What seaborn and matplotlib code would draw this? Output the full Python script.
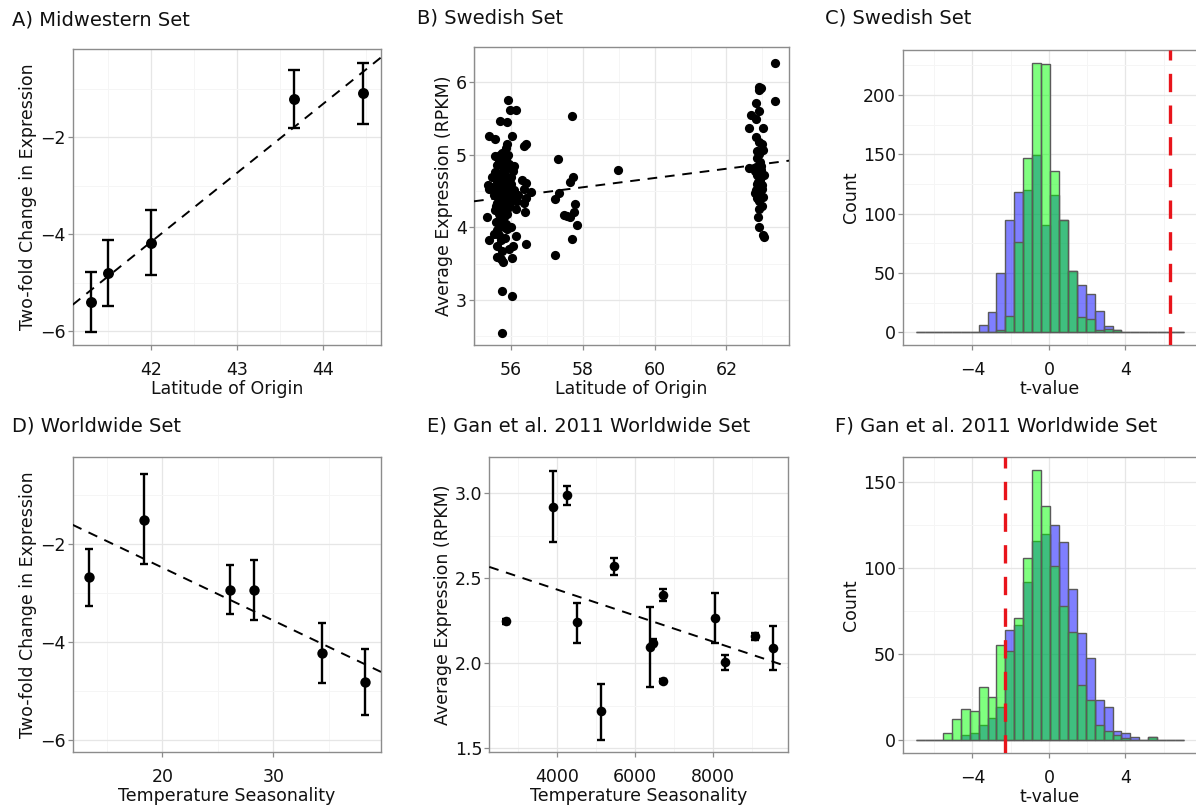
import numpy as np
import matplotlib
matplotlib.use("Agg")
import matplotlib.pyplot as plt
import seaborn as sns

# ---------------- DATA ----------------
# A) Midwestern Set
mw_lat = [41.30, 41.50, 42.00, 43.66, 44.46]
mw_fc = [-5.40, -4.81, -4.18, -1.20, -1.09]
mw_lo = [-6.03, -5.48, -4.85, -1.80, -1.72]
mw_hi = [-4.79, -4.12, -3.51, -0.60, -0.46]
mw_fit = [-64.11, 1.4274]          # intercept, slope

# B) Swedish Set
sw_lat = [55.91, 55.97, 56.14, 55.70, 55.88, 55.39, 55.55, 56.04, 55.90, 56.41,
          56.36, 55.85, 55.76, 55.55, 55.67, 55.85, 55.62, 55.79, 55.90, 55.55,
          55.71, 56.06, 55.48, 55.60, 55.77, 55.97, 55.36, 55.43, 55.67, 55.81,
          55.99, 56.31, 56.41, 55.39, 55.60, 55.90, 56.08, 56.55, 56.36, 55.53,
          55.71, 55.90, 56.04, 56.41, 55.79, 55.62, 55.97, 56.16, 55.55, 55.90,
          56.13, 56.36, 56.38, 55.34, 55.67, 55.81, 55.57, 55.71, 55.90, 56.01,
          55.62, 55.53, 55.39, 55.71, 56.13, 56.06, 56.43, 55.62, 55.76, 55.62,
          55.79, 56.04, 55.73, 55.74, 56.03, 55.74,
          55.65, 55.82, 55.72, 55.86, 55.75, 55.85, 55.66, 55.93, 55.78, 55.70,
          55.88, 55.95, 55.80, 55.70, 55.92, 55.68, 55.85, 55.60, 56.00, 55.95,
          55.76, 55.62, 55.90, 55.80, 55.66, 56.08, 56.20, 55.82, 55.95, 55.58,
          57.32, 57.23, 57.33, 57.70, 57.64, 57.73, 57.22, 57.47, 57.55, 57.64,
          57.78, 57.76, 57.85, 57.71, 58.98,
          63.34, 63.34, 62.90, 62.96, 62.91, 62.81, 62.90, 62.68, 62.81, 62.63,
          63.03, 62.81, 62.90, 63.03, 62.91, 62.84, 62.93, 62.63, 62.81, 62.97,
          62.86, 63.04, 62.93, 62.84, 62.98, 62.82, 62.93, 63.02, 62.91, 62.98,
          62.88, 62.90, 63.03, 63.04, 62.79, 62.89, 62.95, 62.88, 63.00, 62.85,
          62.92, 62.80, 62.98, 62.86]
sw_expr = [5.75, 5.62, 5.62, 5.46, 5.45, 5.26, 5.22, 5.26, 5.15, 5.15,
           5.12, 5.09, 5.03, 4.98, 4.93, 4.94, 4.86, 4.83, 4.82, 4.77,
           4.75, 4.78, 4.70, 4.67, 4.65, 4.68, 4.59, 4.56, 4.60, 4.57,
           4.60, 4.65, 4.61, 4.53, 4.50, 4.51, 4.52, 4.49, 4.53, 4.44,
           4.42, 4.44, 4.42, 4.40, 4.36, 4.33, 4.34, 4.37, 4.24, 4.25,
           4.25, 4.33, 4.21, 4.14, 4.19, 4.14, 4.08, 4.05, 3.98, 4.01,
           3.96, 3.91, 3.82, 3.83, 3.88, 3.75, 3.77, 3.75, 3.68, 3.59,
           3.52, 3.58, 3.56, 3.12, 3.05, 2.55,
           4.72, 4.72, 4.62, 4.63, 4.52, 4.48, 4.40, 4.40, 4.28, 4.20,
           4.18, 4.30, 4.90, 5.00, 5.00, 4.10, 4.05, 4.62, 4.70, 4.88,
           4.45, 4.55, 4.58, 4.00, 3.90, 4.85, 4.45, 3.85, 3.70, 4.30,
           4.94, 4.39, 4.48, 5.54, 4.62, 4.69, 3.62, 4.17, 4.16, 4.14,
           4.32, 4.21, 4.03, 3.84, 4.79,
           6.27, 5.74, 5.94, 5.92, 5.89, 5.72, 5.61, 5.55, 5.49, 5.37,
           5.37, 5.24, 5.18, 5.07, 5.01, 4.95, 4.90, 4.82, 4.83, 4.79,
           4.72, 4.72, 4.65, 4.60, 4.53, 4.51, 4.47, 4.42, 4.36, 4.30,
           4.15, 4.00, 3.89, 3.87, 4.47, 4.41, 4.85, 4.62, 4.58, 4.40,
           4.25, 4.78, 5.15, 5.05]
sw_fit = [0.853, 0.0638]

# Histogram bins (t-value), shared by C and F
hist_start = -6.95
hist_width = 0.467
hist_nbins = 30

# C) Swedish Set permutation t-values (counts per bin)
sw_blue = [0, 0, 0, 0, 0, 0, 0, 6, 17, 50, 95, 118, 120, 149, 90, 116,
           95, 52, 40, 32, 18, 5, 2, 0, 0, 0, 0, 0, 0, 0]
sw_green = [0, 0, 0, 0, 0, 0, 0, 0, 0, 2, 14, 76, 147, 227, 226, 136,
            95, 52, 13, 11, 2, 3, 2, 0, 0, 0, 0, 0, 0, 0]
sw_obs_t = 6.32

# D) Worldwide Set
ww_temp = [13.39, 18.35, 26.07, 28.29, 34.35, 38.23]
ww_fc = [-2.67, -1.50, -2.93, -2.93, -4.23, -4.81]
ww_lo = [-3.26, -2.41, -3.43, -3.55, -4.84, -5.49]
ww_hi = [-2.10, -0.56, -2.42, -2.32, -3.61, -4.13]
ww_fit = [-0.309, -0.1083]

# E) Gan et al. 2011 Worldwide Set
gan_temp = [2675, 3889, 4239, 4496, 5120, 5444, 6368, 6444, 6709, 6718,
            8043, 8299, 9060, 9530]
gan_expr = [2.247, 2.92, 2.986, 2.243, 1.717, 2.57, 2.096, 2.12, 2.40, 1.895,
            2.267, 2.006, 2.157, 2.09]
gan_lo = [2.23, 2.71, 2.93, 2.12, 1.55, 2.52, 1.86, 2.10, 2.365, 1.885,
          2.12, 1.96, 2.135, 1.96]
gan_hi = [2.26, 3.13, 3.04, 2.355, 1.88, 2.62, 2.33, 2.14, 2.435, 1.905,
          2.41, 2.05, 2.18, 2.22]
gan_fit = [2.7387, -7.657e-5]

# F) Gan et al. 2011 permutation t-values (counts per bin)
gan_blue = [0, 0, 0, 0, 0, 3, 4, 9, 13, 19, 64, 67, 92, 116, 120, 125,
            115, 88, 62, 48, 23, 19, 5, 4, 2, 0, 2, 0, 0, 0]
gan_green = [0, 0, 0, 4, 12, 18, 17, 31, 25, 55, 52, 71, 106, 157, 136, 101,
             78, 63, 32, 23, 9, 5, 3, 1, 0, 0, 2, 0, 0, 0]
gan_obs_t = -2.32

titles = ["A) Midwestern Set", "B) Swedish Set", "C) Swedish Set",
          "D) Worldwide Set", "E) Gan et al. 2011 Worldwide Set",
          "F) Gan et al. 2011 Worldwide Set"]

# ---------------- STYLE ----------------
sns.set_theme(style="ticks")
plt.rcParams["font.family"] = ["DejaVu Sans"]

W, H = 1196, 808
fig = plt.figure(figsize=(W / 100, H / 100), dpi=100)
fig.patch.set_facecolor("white")


def add_ax(l, t, r, b):
    return fig.add_axes([l / W, 1 - b / H, (r - l) / W, (b - t) / H])


def style(ax, xlim, ylim, xt, yt, xmin_t, ymin_t, xlabel, ylabel, ytl=None):
    ax.set_xlim(xlim)
    ax.set_ylim(ylim)
    ax.set_xticks(xt)
    ax.set_yticks(yt)
    if ytl is not None:
        ax.set_yticklabels(ytl)
    ax.set_xticks(xmin_t, minor=True)
    ax.set_yticks(ymin_t, minor=True)
    ax.grid(True, which="major", color="#E6E6E6", lw=0.9)
    ax.grid(True, which="minor", color="#F5F5F5", lw=0.7)
    ax.set_axisbelow(True)
    for s in ax.spines.values():
        s.set_visible(True)
        s.set_color("#8C8C8C")
        s.set_linewidth(1.0)
    ax.tick_params(which="major", direction="out", length=3.5, width=0.9,
                   color="#8C8C8C", labelsize=12.5, labelcolor="#111111",
                   bottom=True, left=True)
    ax.tick_params(axis="x", pad=8)
    ax.tick_params(axis="y", pad=1.5)
    ax.tick_params(which="minor", length=0)
    ax.set_xlabel(xlabel, fontsize=12.5, labelpad=1, color="#111111")
    ax.set_ylabel(ylabel, fontsize=12.5, labelpad=2, color="#111111")
    ax.set_facecolor("white")


def fit_line(ax, xlim, fit):
    xs = np.array(xlim)
    sns.lineplot(x=xs, y=fit[0] + fit[1] * xs, color="black", lw=1.4,
                 linestyle=(0, (5, 4)), ax=ax, zorder=4)


def err_panel(ax, x, y, lo, hi, s, cap):
    y = np.array(y)
    yerr = np.array([y - np.array(lo), np.array(hi) - y])
    ax.errorbar(x, y, yerr=yerr, fmt="none", ecolor="black", elinewidth=1.7,
                capsize=cap, capthick=1.7, zorder=3)
    sns.scatterplot(x=x, y=y, color="black", s=s, linewidth=0, ax=ax, zorder=5)


def hist_panel(ax, blue, green, obs):
    edges = [hist_start + hist_width * k for k in range(hist_nbins + 1)]
    centers = [e + hist_width / 2 for e in edges[:-1]]
    sns.histplot(x=centers, weights=blue, bins=edges, color="#0000FF", alpha=0.5,
                 edgecolor="#5A5A5A", linewidth=1.0, ax=ax, zorder=2)
    sns.histplot(x=centers, weights=green, bins=edges, color="#00FF00", alpha=0.5,
                 edgecolor="#5A5A5A", linewidth=1.0, ax=ax, zorder=3)
    ax.axvline(obs, color="#E8141B", lw=2.4, linestyle=(0, (5.5, 4)), zorder=6)


# ---- A ----
axA = add_ax(72.7, 49.3, 381, 345)
xlimA = (41.09, 44.67)
err_panel(axA, mw_lat, mw_fc, mw_lo, mw_hi, s=62, cap=4.2)
fit_line(axA, xlimA, mw_fit)
style(axA, xlimA, (-6.29, -0.18), [42, 43, 44], [-6, -4, -2],
      [41.5, 42.5, 43.5, 44.5], [-5, -3, -1],
      "Latitude of Origin", "Two-fold Change in Expression")

# ---- B ----
axB = add_ax(474, 46.7, 789.3, 345)
xlimB = (54.97, 63.75)
sns.scatterplot(x=sw_lat, y=sw_expr, color="black", s=44, linewidth=0, ax=axB, zorder=3)
fit_line(axB, xlimB, sw_fit)
style(axB, xlimB, (2.38, 6.49), [56, 58, 60, 62], [3, 4, 5, 6],
      [55, 57, 59, 61, 63], [2.5, 3.5, 4.5, 5.5],
      "Latitude of Origin", "Average Expression (RPKM)")

# ---- C ----
axC = add_ax(902.7, 50, 1197.5, 345)
hist_panel(axC, sw_blue, sw_green, sw_obs_t)
style(axC, (-7.65, 7.77), (-10.7, 237.8), [-4, 0, 4], [0, 50, 100, 150, 200],
      [-6, -2, 2, 6], [25, 75, 125, 175, 225], "t-value", "Count")

# ---- D ----
axD = add_ax(72.7, 457.3, 381, 751.7)
xlimD = (11.93, 39.70)
err_panel(axD, ww_temp, ww_fc, ww_lo, ww_hi, s=56, cap=2.8)
fit_line(axD, xlimD, ww_fit)
style(axD, xlimD, (-6.24, -0.22), [20, 30], [-6, -4, -2],
      [15, 25, 35], [-5, -3, -1],
      "Temperature Seasonality", "Two-fold Change in Expression")

# ---- E ----
axE = add_ax(489.3, 457.3, 788.3, 751.7)
xlimE = (2256, 9923)
err_panel(axE, gan_temp, gan_expr, gan_lo, gan_hi, s=48, cap=2.6)
fit_line(axE, xlimE, gan_fit)
style(axE, xlimE, (1.48, 3.21), [4000, 6000, 8000], [1.5, 2.0, 2.5, 3.0],
      [3000, 5000, 7000, 9000], [1.75, 2.25, 2.75],
      "Temperature Seasonality", "Average Expression (RPKM)",
      ytl=["1.5", "2.0", "2.5", "3.0"])

# ---- F ----
axF = add_ax(902.7, 457, 1197.5, 752.7)
hist_panel(axF, gan_blue, gan_green, gan_obs_t)
style(axF, (-7.65, 7.77), (-7.4, 164.7), [-4, 0, 4], [0, 50, 100, 150],
      [-6, -2, 2, 6], [25, 75, 125], "t-value", "Count")

# ---- Titles ----
title_pos = [(11.7, 25), (416.7, 24), (825, 24), (11.7, 431.7), (426.7, 431.7), (835, 431.7)]
for (tx, ty), t in zip(title_pos, titles):
    fig.text(tx / W, 1 - ty / H, t, fontsize=14, ha="left", va="baseline", color="#111111")

fig.savefig("out.png", dpi=100)
